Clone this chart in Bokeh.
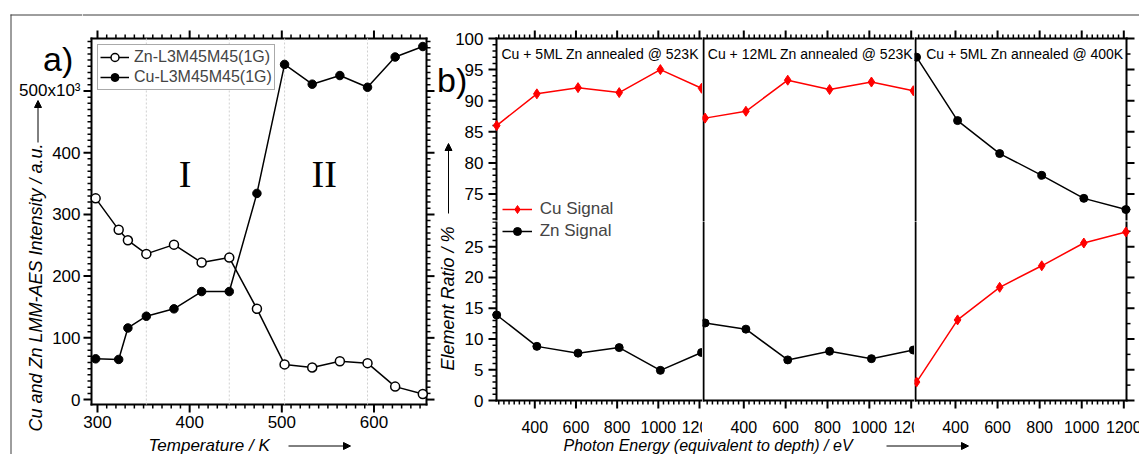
import math
from bokeh.plotting import figure
from bokeh.layouts import row, column
from bokeh.models import Range1d, Label, Arrow, NormalHead, Legend, LegendItem, Grid
from bokeh.embed import file_html
from bokeh.resources import INLINE
from bokeh.core.properties import value

# ---------------- data ----------------
temperature = [298, 323, 333, 353, 383, 413, 443, 473, 503, 533, 563, 593, 623, 653]
zn_intensity = [326, 275, 258, 236, 251, 222, 230, 147, 57, 52, 62, 59, 21, 9]
cu_intensity = [66, 65, 116, 135, 147, 175, 175, 334, 543, 511, 525, 506, 555, 572]
region_bounds = [353, 443, 503, 593]
region_names = ["I", "II"]
region_name_x = [395, 546]
region_name_y = [366, 366]
temperature_ticks = [300, 400, 500, 600]
intensity_ticks = [0, 100, 200, 300, 400, 500]
intensity_tick_labels = ["0", "100", "200", "300", "400", "500x10³"]

photon_energy = [215, 410, 610, 810, 1010, 1210]
cu_5ml_523 = [86.0, 91.1, 92.1, 91.3, 95.0, 92.0]
zn_5ml_523 = [13.9, 8.8, 7.7, 8.6, 4.9, 7.8]
cu_12ml_523 = [87.2, 88.3, 93.3, 91.8, 93.0, 91.6]
zn_12ml_523 = [12.6, 11.6, 6.6, 8.0, 6.8, 8.2]
cu_5ml_400 = [3.0, 13.1, 18.4, 21.9, 25.6, 27.4]
zn_5ml_400 = [97.0, 86.8, 81.5, 78.0, 74.3, 72.5]
energy_ticks = [400, 600, 800, 1000, 1200]
ratio_ticks_upper = [75, 80, 85, 90, 95, 100]
ratio_ticks_lower = [0, 5, 10, 15, 20, 25]
panel_titles = ["Cu + 5ML Zn annealed @ 523K", "Cu + 12ML Zn annealed @ 523K",
                "Cu + 5ML Zn annealed @ 400K"]

FONT = "Liberation Sans"
BLACK = "black"
RED = "#ff0000"
BORDER = "#3c3c3c"
TICK, MINOR = 8, 4            # outward tick lengths (px)

# ---------------- layout (page pixels: left, top, right, bottom) ----------------
TOP_H = 29
MAIN_TOP, MAIN_BOT = 29, 435
BOT_H = 19
LA_W, A_W, LB_W = 82, 354, 51
COL_W = [215, 212, 225]
A_BOX = (91, 38, 426, 404)
UP_Y = (38, 219)              # upper part of the broken axis
LO_Y = (221, 400)             # lower part
A_XR, A_YR = (293.5, 657), (-8, 585)
UP_YR, LO_YR = (70.9, 100), (0, 29.1)
COL_XR = [(214, 1214.6), (207.4, 1215.8), (210, 1212.8)]
COL_BOX_X = [(496, 702), (703, 914), (915, 1126)]


def base_fig(w, h, xr, yr):
    f = figure(width=w, height=h, x_range=Range1d(*xr), y_range=Range1d(*yr),
               x_axis_location=None, y_axis_location=None,
               toolbar_location=None, output_backend="svg",
               min_border_left=0, min_border_right=0, min_border_top=0, min_border_bottom=0)
    f.center = [c for c in f.center if not isinstance(c, Grid)]
    f.outline_line_color = None
    f.background_fill_color = None
    f.border_fill_color = None
    return f


def make_main(canvas, box, xr, yr):
    """Figure filling its canvas; its scales map the data range exactly onto the plot box."""
    kx = (box[2] - box[0]) / (xr[1] - xr[0])
    ky = (box[3] - box[1]) / (yr[1] - yr[0])
    fxr = (xr[0] - (box[0] - canvas[0]) / kx, xr[1] + (canvas[2] - box[2]) / kx)
    fyr = (yr[0] - (canvas[3] - box[3]) / ky, yr[1] + (box[1] - canvas[1]) / ky)
    f = base_fig(canvas[2] - canvas[0], canvas[3] - canvas[1], fxr, fyr)
    return f, kx, ky


def multiples(lo, hi, step):
    out = []
    n = math.ceil(lo / step - 1e-9)
    while n * step <= hi + 1e-9:
        out.append(round(n * step, 6))
        n += 1
    return out


def tick_marks(f, xr, yr, kx, ky, side, interval, minor):
    """Outward major/minor tick marks, drawn through the figure's scales."""
    along = xr if side in ("below", "above") else yr
    majors = multiples(along[0], along[1], interval)
    minors = [v for v in multiples(along[0], along[1], interval / minor)
              if all(abs(v - m) > 1e-6 for m in majors)]
    for vals, length, width in ((majors, TICK, 2), (minors, MINOR, 1.5)):
        if not vals:
            continue
        n = len(vals)
        if side == "below":
            x0, x1, y0, y1 = vals, vals, [yr[0]] * n, [yr[0] - length / ky] * n
        elif side == "above":
            x0, x1, y0, y1 = vals, vals, [yr[1]] * n, [yr[1] + length / ky] * n
        elif side == "left":
            x0, x1, y0, y1 = [xr[0]] * n, [xr[0] - length / kx] * n, vals, vals
        else:
            x0, x1, y0, y1 = [xr[1]] * n, [xr[1] + length / kx] * n, vals, vals
        f.segment(x0, y0, x1, y1, line_color=BLACK, line_width=width)


def edge(f, xr, yr, kx, ky, side, ext_lo=1.0, ext_hi=1.0):
    """Plot-box edge line (2 px) through the figure's scales."""
    if side in ("below", "above"):
        y = yr[0] if side == "below" else yr[1]
        seg = ([xr[0] - ext_lo / kx], [y], [xr[1] + ext_hi / kx], [y])
    else:
        x = xr[0] if side == "left" else xr[1]
        seg = ([x], [yr[0] - ext_lo / ky], [x], [yr[1] + ext_hi / ky])
    f.segment(*seg, line_color=BLACK, line_width=2)


def x_tick_labels(f, ticks, yr, ky, box_bottom, label_center, size):
    y_lab = yr[0] - (label_center - box_bottom) / ky
    f.text(x=ticks, y=[y_lab] * len(ticks), text=[str(v) for v in ticks],
           text_font=value(FONT), text_font_size=value(size), text_align="center",
           text_baseline="middle", text_color=BLACK)


def p_label(f, frame, x, y, text, size, italic=False, angle=0.0, align="left", font=FONT):
    f.add_layout(Label(x=x - frame[0], y=frame[3] - y, x_units="screen", y_units="screen",
                       text=text, angle=angle, text_align=align, text_baseline="middle",
                       text_font=font, text_font_size=size,
                       text_font_style="italic" if italic else "normal", text_color=BLACK))


def p_line(f, frame, x0, y0, x1, y1, color=BLACK, width=1.0, head=False):
    end = NormalHead(size=7, fill_color=color, line_color=color, line_width=1) if head else None
    f.add_layout(Arrow(x_start=x0 - frame[0], y_start=frame[3] - y0, x_end=x1 - frame[0],
                       y_end=frame[3] - y1, start_units="screen", end_units="screen",
                       start=None, end=end, line_color=color, line_width=width))


def matched_range(rng, box_top, box_bot, canvas_top, canvas_bot):
    k = (box_bot - box_top) / (rng[1] - rng[0])
    return (rng[0] - (canvas_bot - box_bot) / k, rng[1] + (box_top - canvas_top) / k)


# ---------------- left strip: panel a title, y tick labels ----------------
LA_FR = (0, 0, LA_W, TOP_H + (MAIN_BOT - MAIN_TOP) + BOT_H)
la = base_fig(LA_W, LA_FR[3], (0, LA_W), matched_range(A_YR, A_BOX[1], A_BOX[3], 0, LA_FR[3]))
la.text(x=[80] * len(intensity_ticks), y=intensity_ticks, text=intensity_tick_labels,
        text_font=value(FONT), text_font_size=value("17px"), text_align="right",
        text_baseline="middle", text_color=BLACK)
p_label(la, LA_FR, 42.5, 58, "a)", "34px")
p_label(la, LA_FR, 35.5, 287, "Cu and Zn LMM-AES Intensity / a.u.", "18px", italic=True,
        angle=math.pi / 2, align="center")
p_line(la, LA_FR, 37.5, 142, 37.5, 100, head=True)
p_line(la, LA_FR, 10, 14.5, LA_W, 14.5, color=BORDER)
p_line(la, LA_FR, 10.5, 14, 10.5, LA_FR[3], color=BORDER)

# ---------------- top strip: outer frame line ----------------
RIGHT_W = A_W + LB_W + sum(COL_W)
T_FR = (LA_W, 0, LA_W + RIGHT_W, TOP_H)
ts = base_fig(RIGHT_W, TOP_H, (0, RIGHT_W), (0, TOP_H))
p_line(ts, T_FR, LA_W, 14.5, LA_W + RIGHT_W, 14.5, color=BORDER)

# ---------------- panel a ----------------
A_CANVAS = (LA_W, MAIN_TOP, LA_W + A_W, MAIN_BOT)
fa, akx, aky = make_main(A_CANVAS, A_BOX, A_XR, A_YR)
for side in ("left", "right", "above", "below"):
    edge(fa, A_XR, A_YR, akx, aky, side)
    tick_marks(fa, A_XR, A_YR, akx, aky, side, 100, 10)
x_tick_labels(fa, temperature_ticks, A_YR, aky, A_BOX[3], 421, "17px")
fa.segment(x0=region_bounds, y0=[A_YR[0]] * len(region_bounds),
           x1=region_bounds, y1=[A_YR[1]] * len(region_bounds),
           line_color="#d0d0d0", line_dash="2 2", line_width=1)
fa.text(x=region_name_x, y=region_name_y, text=region_names,
        text_font=value("Liberation Serif"), text_font_size=value("38px"),
        text_align="center", text_baseline="middle", text_color=BLACK)
zl = fa.line(temperature, zn_intensity, line_color=BLACK, line_width=1.5)
zs = fa.scatter(temperature, zn_intensity, marker="circle", size=9, fill_color="white",
                line_color=BLACK, line_width=1.5)
cl = fa.line(temperature, cu_intensity, line_color=BLACK, line_width=1.5)
cs = fa.scatter(temperature, cu_intensity, marker="circle", size=8.5, fill_color=BLACK,
                line_color=BLACK)
fa.add_layout(Legend(items=[LegendItem(label="Zn-L3M45M45(1G)", renderers=[zl, zs]),
                            LegendItem(label="Cu-L3M45M45(1G)", renderers=[cl, cs])],
                     location="top_left", margin=15, padding=2, spacing=0,
                     border_line_color="#555555", border_line_width=1,
                     background_fill_color="white", background_fill_alpha=1,
                     label_text_font=FONT, label_text_font_size="16px",
                     glyph_width=29, glyph_height=20, label_height=20, label_standoff=5))

# ---------------- panel b: left strips (tick labels, title) ----------------
LB_X0 = LA_W + A_W
UP_CANVAS = (MAIN_TOP, LO_Y[0])
LO_CANVAS = (LO_Y[0], MAIN_BOT)
LBt_FR = (LB_X0, UP_CANVAS[0], LB_X0 + LB_W, UP_CANVAS[1])
LBb_FR = (LB_X0, LO_CANVAS[0], LB_X0 + LB_W, LO_CANVAS[1])
lbt = base_fig(LB_W, UP_CANVAS[1] - UP_CANVAS[0], (0, LB_W),
               matched_range(UP_YR, UP_Y[0], UP_Y[1], UP_CANVAS[0], UP_CANVAS[1]))
lbb = base_fig(LB_W, LO_CANVAS[1] - LO_CANVAS[0], (0, LB_W),
               matched_range(LO_YR, LO_Y[0], LO_Y[1], LO_CANVAS[0], LO_CANVAS[1]))
for f, ticks in ((lbt, ratio_ticks_upper), (lbb, ratio_ticks_lower)):
    f.text(x=[LB_W - 4] * len(ticks), y=ticks, text=[str(v) for v in ticks],
           text_font=value(FONT), text_font_size=value("17px"), text_align="right",
           text_baseline="middle", text_color=BLACK)
p_label(lbt, LBt_FR, 436.5, 79.5, "b)", "34px")
p_line(lbt, LBt_FR, 448, 213, 448, 143, head=True)
p_label(lbb, LBb_FR, 447.5, 298, "Element Ratio / %", "18px", italic=True,
        angle=math.pi / 2, align="center")

# ---------------- panel b: three sub-panels, split at the axis break ----------------
cu_sets = [cu_5ml_523, cu_12ml_523, cu_5ml_400]
zn_sets = [zn_5ml_523, zn_12ml_523, zn_5ml_400]
title_x = [501, 707.3, 925.7]
gap_px = LO_Y[0] - UP_Y[1]
cols = []
cx0 = LB_X0 + LB_W
for i in range(3):
    cx1 = cx0 + COL_W[i]
    bx0, bx1 = COL_BOX_X[i]
    up_box = (bx0, UP_Y[0], bx1, UP_Y[1])
    lo_box = (bx0, LO_Y[0], bx1, LO_Y[1])
    up_cv = (cx0, UP_CANVAS[0], cx1, UP_CANVAS[1])
    lo_cv = (cx0, LO_CANVAS[0], cx1, LO_CANVAS[1])
    xr = COL_XR[i]
    ft, kx, kyt = make_main(up_cv, up_box, xr, UP_YR)
    fb, _, kyb = make_main(lo_cv, lo_box, xr, LO_YR)
    edge(ft, xr, UP_YR, kx, kyt, "above")
    edge(fb, xr, LO_YR, kx, kyb, "below")
    tick_marks(ft, xr, UP_YR, kx, kyt, "above", 200, 8)
    tick_marks(fb, xr, LO_YR, kx, kyb, "below", 200, 8)
    x_tick_labels(fb, energy_ticks, LO_YR, kyb, LO_Y[1], 426, "16px")
    if i == 0:
        edge(ft, xr, UP_YR, kx, kyt, "left")
        edge(fb, xr, LO_YR, kx, kyb, "left")
        tick_marks(ft, xr, UP_YR, kx, kyt, "left", 5, 5)
        tick_marks(fb, xr, LO_YR, kx, kyb, "left", 5, 5)
    else:
        # divider between sub-panels, continuous across the axis break
        edge(ft, xr, UP_YR, kx, kyt, "left", ext_lo=gap_px)
        edge(fb, xr, LO_YR, kx, kyb, "left")
    if i == 2:
        edge(ft, xr, UP_YR, kx, kyt, "right")
        edge(fb, xr, LO_YR, kx, kyb, "right")
        tick_marks(ft, xr, UP_YR, kx, kyt, "right", 5, 2)
        tick_marks(fb, xr, LO_YR, kx, kyb, "right", 5, 2)
    rend = []
    for f in (ft, fb):
        rl = f.line(photon_energy, cu_sets[i], line_color=RED, line_width=1.5)
        rs = f.scatter(photon_energy, cu_sets[i], marker="diamond", size=10,
                       fill_color=RED, line_color=RED)
        kl = f.line(photon_energy, zn_sets[i], line_color=BLACK, line_width=1.5)
        ks = f.scatter(photon_energy, zn_sets[i], marker="circle", size=8,
                       fill_color=BLACK, line_color=BLACK)
        rend.append((rl, rs, kl, ks))
    p_label(ft, up_cv, title_x[i], 53.3, panel_titles[i], "14px")
    if i == 0:
        ft.add_layout(Legend(items=[LegendItem(label="Cu Signal", renderers=list(rend[0][:2]))],
                             location=(501.7 - cx0, up_cv[3] - UP_Y[1]), padding=0, margin=0,
                             spacing=0, border_line_color=None, background_fill_alpha=0,
                             label_text_font=FONT, label_text_font_size="17px",
                             glyph_width=30, glyph_height=20, label_height=20, label_standoff=8))
        fb.add_layout(Legend(items=[LegendItem(label="Zn Signal", renderers=list(rend[1][2:]))],
                             location=(501.7 - cx0, lo_cv[3] - (LO_Y[0] + 20)), padding=0,
                             margin=0, spacing=0, border_line_color=None, background_fill_alpha=0,
                             label_text_font=FONT, label_text_font_size="17px",
                             glyph_width=30, glyph_height=20, label_height=20, label_standoff=8))
    cols.append(column(ft, fb))
    cx0 = cx1

# ---------------- bottom strip: x axis titles ----------------
S_FR = (LA_W, MAIN_BOT, LA_W + RIGHT_W, MAIN_BOT + BOT_H)
sb = base_fig(RIGHT_W, BOT_H, (0, RIGHT_W), (0, BOT_H))
p_label(sb, S_FR, 148, 444.5, "Temperature / K", "17px", italic=True)
p_line(sb, S_FR, 288, 445.5, 350, 445.5, head=True)
p_label(sb, S_FR, 563, 444.5, "Photon Energy (equivalent to depth) / eV", "16px", italic=True)
p_line(sb, S_FR, 886, 445.5, 968, 445.5, head=True)

layout = row(la, column(ts, row(fa, column(lbt, lbb), *cols), sb))

open("out.html", "w").write(file_html(layout, INLINE))
